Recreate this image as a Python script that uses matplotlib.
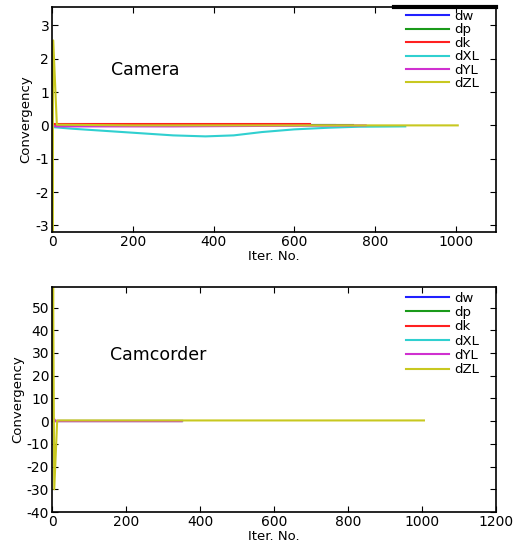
import matplotlib
matplotlib.use('Agg')
import matplotlib.pyplot as plt

labels = ['dw', 'dp', 'dk', 'dXL', 'dYL', 'dZL']
colors = ['#2020ff', '#1a9a1a', '#ff2020', '#30d0d0', '#d030d0', '#c8c820']

# Camera run: iteration numbers and values per parameter
cam_x = {
    'dw':  [0, 10, 700],
    'dp':  [0, 10, 745],
    'dk':  [0, 10, 640],
    'dXL': [0, 50, 100, 200, 300, 380, 450, 520, 600, 685, 760, 875],
    'dYL': [0, 10, 300, 777],
    'dZL': [0, 1, 3, 12, 200, 1005],
}
cam_y = {
    'dw':  [0.0, 0.0, 0.0],
    'dp':  [0.0, 0.0, 0.0],
    'dk':  [0.03, 0.03, 0.03],
    'dXL': [-0.05, -0.1, -0.14, -0.22, -0.3, -0.33, -0.3, -0.2, -0.12, -0.07, -0.04, -0.03],
    'dYL': [0.0, -0.03, -0.03, 0.0],
    'dZL': [0.0, -3.4, 2.55, 0.02, 0.0, 0.0],
}

# Camcorder run
cc_x = {
    'dw':  [0, 10, 350],
    'dp':  [0, 10, 350],
    'dk':  [0, 10, 350],
    'dXL': [0, 10, 350],
    'dYL': [0, 5, 10, 350],
    'dZL': [1, 3, 6, 14, 1005],
}
cc_y = {
    'dw':  [0.0, 0.0, 0.0],
    'dp':  [0.0, 0.0, 0.0],
    'dk':  [0.0, 0.0, 0.0],
    'dXL': [0.0, 0.0, 0.0],
    'dYL': [0.0, 1.0, 0.0, 0.0],
    'dZL': [0.0, 60.0, -30.0, 0.3, 0.3],
}

plt.rcParams['font.family'] = ['DejaVu Sans']
plt.rcParams['axes.unicode_minus'] = False

fig = plt.figure(figsize=(5.17, 5.54), dpi=100)

ax1 = fig.add_axes([0.1006, 0.5812, 0.859, 0.406])
ax2 = fig.add_axes([0.1006, 0.0758, 0.859, 0.406])


def draw(ax, xs, ys, title, tx, ty, leg_y, spacing):
    for lab, col in zip(labels, colors):
        ax.plot(xs[lab], ys[lab], color=col, lw=1.5, label=lab)
    ax.text(tx, ty, title, fontsize=12.5)
    ax.set_xlabel('Iter. No.', fontsize=9.5, labelpad=1)
    ax.set_ylabel('Convergency', fontsize=9.5, labelpad=2)
    ax.tick_params(direction='in', top=True, right=True, labelsize=10, length=4, pad=2)
    for s in ax.spines.values():
        s.set_linewidth(1.2)
    ax.legend(loc='upper left', bbox_to_anchor=(0.795, leg_y), frameon=False,
              fontsize=9.5, handlelength=3.2, handletextpad=0.4,
              labelspacing=spacing, borderaxespad=0, borderpad=0.1)


draw(ax1, cam_x, cam_y, 'Camera', 145, 1.5, 0.993, 0.03)
ax1.set_xlim(0, 1100)
ax1.set_ylim(-3.2, 3.55)
ax1.set_xticks(range(0, 1001, 200))
ax1.set_yticks(range(-3, 4))
ax1.axhline(3.55, xmin=0.77, xmax=1.0, color='black', lw=3, clip_on=False)

draw(ax2, cc_x, cc_y, 'Camcorder', 157, 27, 0.985, 0.1)
ax2.set_xlim(0, 1200)
ax2.set_ylim(-40, 59)
ax2.set_xticks(range(0, 1201, 200))
ax2.set_yticks(range(-40, 51, 10))

fig.savefig('out.png', dpi=100)
